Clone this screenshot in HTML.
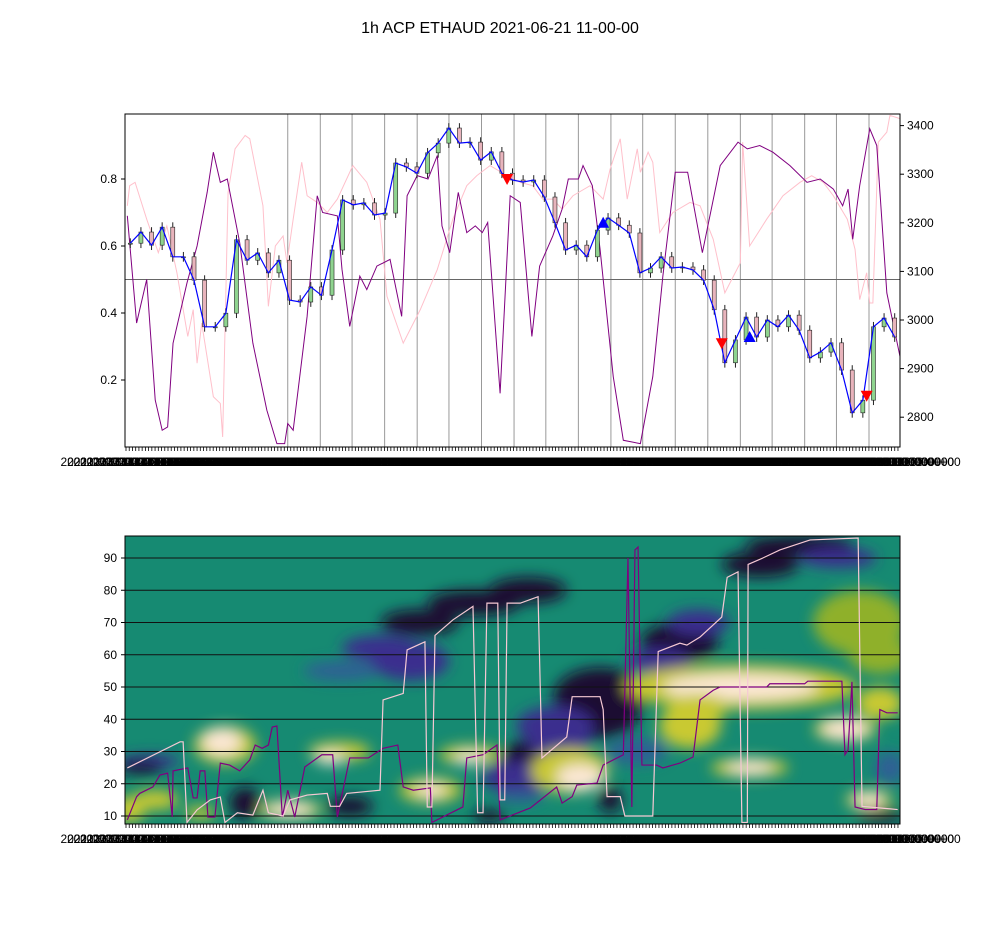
<!DOCTYPE html>
<html><head><meta charset="utf-8"><style>
body{margin:0;background:#fff;}
svg{display:block;font-family:"Liberation Sans",sans-serif;}
</style></head><body>
<svg id="fig" width="1000" height="950" viewBox="0 0 1000 950">
<defs>
<clipPath id="clipTop"><rect x="125" y="114" width="775" height="333"/></clipPath>
<clipPath id="clipBot"><rect x="125" y="536" width="775" height="288"/></clipPath>
<filter id="blur" x="-50%" y="-50%" width="200%" height="200%"><feGaussianBlur stdDeviation="7"/></filter>
</defs>
<text x="500" y="33" text-anchor="middle" font-size="16">1h ACP ETHAUD 2021-06-21 11-00-00</text>
<g id="topPanel"></g>
<g id="botPanel"></g>
</svg>
<script>
// ---------- data ----------
const closes=[3158,3181,3154,3191,3130,3130,3082,2986,2986,3014,3165,3123,3138,3097,3123,3041,3037,3068,3051,3144,3247,3237,3241,3216,3220,3323,3315,3302,3344,3364,3395,3364,3366,3329,3346,3302,3288,3284,3288,3253,3200,3144,3154,3130,3185,3210,3195,3179,3097,3107,3130,3107,3109,3103,3082,3021,2912,2959,3006,2965,3000,2986,3010,2979,2922,2934,2953,2897,2809,2835,2986,3004,2965];
const oscT=[0.3,1.5,2.8,3.9,4.8,5.5,6.2,8,9.3,10.6,11.4,12.3,13.2,14.8,16.5,18.3,19.6,20.6,21,21.7,23.5,24.8,25.5,27.4,28,29,30.3,31.2,32.5,34.2,35.7,36.4,37.7,39.1,40.3,40.9,41.9,43,44.1,45.2,46.1,46.8,48.4,49.7,51,52.5,53.5,55.2,56.4,57.2,58.5,59.1,60.3,61.3,63,64.3,66.5,68.1,69.4,71,72.6,74.5,76.8,79.1,80.3,81.9,83.6,85.8,88,89.7,91.4,92.6,93.3,93.9,94.8,96.1,97,98.3,100];
const oscV=[0.69,0.37,0.50,0.14,0.05,0.06,0.31,0.49,0.60,0.76,0.88,0.79,0.80,0.61,0.31,0.11,0.01,0.01,0.07,0.05,0.39,0.75,0.70,0.69,0.53,0.36,0.51,0.47,0.54,0.56,0.39,0.75,0.81,0.80,0.87,0.66,0.58,0.76,0.64,0.66,0.64,0.67,0.16,0.75,0.73,0.33,0.54,0.63,0.71,0.80,0.80,0.84,0.78,0.59,0.21,0.02,0.01,0.21,0.51,0.82,0.82,0.58,0.84,0.91,0.89,0.90,0.88,0.84,0.79,0.80,0.77,0.72,0.77,0.62,0.78,0.95,0.90,0.46,0.27];
const pinkT=[0.3,0.6,1.3,2.8,4.3,5.4,6.7,8.1,8.8,9.3,9.9,11.4,12.3,12.6,13.3,14.2,15.5,16.1,17.8,18.5,19.4,20.4,20.9,21.7,22.8,23.5,24.8,26.1,27.4,29.4,31.2,32.9,33.8,35.9,38.1,40.3,42.3,44.1,45.4,47.1,49.3,51,52.6,53.9,55.2,56.4,57.8,60,61.7,62.6,63.9,64.8,66.1,66.5,67.5,68.1,69,70.7,72.9,74.2,75.9,77.4,79.4,79.7,80.6,82.8,84.9,87.1,88.6,90.1,91.4,93.2,94.2,94.8,95.7,96.1,96.5,97.2,98.3,98.7,100];
const pinkV=[0.72,0.78,0.79,0.68,0.58,0.66,0.52,0.33,0.41,0.25,0.37,0.15,0.13,0.03,0.76,0.89,0.93,0.92,0.72,0.42,0.60,0.63,0.55,0.68,0.85,0.75,0.73,0.70,0.74,0.84,0.79,0.68,0.45,0.31,0.41,0.53,0.68,0.78,0.81,0.84,0.81,0.79,0.78,0.74,0.74,0.71,0.75,0.78,0.74,0.83,0.92,0.74,0.89,0.82,0.88,0.85,0.64,0.70,0.73,0.72,0.62,0.46,0.55,0.91,0.60,0.68,0.75,0.79,0.81,0.79,0.75,0.68,0.59,0.44,0.52,0.43,0.43,0.91,0.94,0.99,0.98];
const sellT=[49.3,77,95.7]; const sellP=[3288,2950,2842];
const buyT=[61.7,80.6]; const buyP=[3200,2965];
const leftTicks=[0.2,0.4,0.6,0.8];
const rightTicks=[2800,2900,3000,3100,3200,3300,3400];
const vgridT=[21,25.2,29.3,33.5,37.7,41.8,46,50.2,54.3,58.5,62.7,66.8,71,75.2,79.4,83.5,87.7,91.8,96];
// bottom panel
const domT=[0.3,7.1,7.5,8,9.3,11,12.3,12.9,14.5,16.5,17.8,18.5,20.4,21.3,23.5,26.1,26.5,27.7,28.6,32.9,33.3,35.9,36.4,38.7,39,39.6,40,42.3,44.9,45.5,46.2,46.7,48.1,48.4,49,49.3,51,53.3,53.8,57,57.7,61.3,61.7,62.2,63.9,64.5,68.1,68.8,71.6,72.5,74.2,77,77.7,79.1,79.6,80.3,80.4,82.3,84.5,88.4,94.6,95.1,99.7];
const domP=[24.9,33,33,8,11.9,15,15.9,8,11,10.3,18,11,10,15,16.5,17,13,13,17,18,46,48,61.5,64,12.8,12.8,66,70.8,75,11,11,76,76,15,15,76,76,78,28,34.5,47,47,43,16,16,10,10,61,63.6,63,65.5,71.7,84,85.7,8,8,88,90,92.5,95.6,96.2,13,12];
const cycT=[0.3,1.5,1.9,3.6,4.5,5.5,6.1,6.2,8.1,8.8,9.3,9.7,10.3,10.7,11.6,12.3,13.5,14.8,16.1,16.8,17.7,18.5,19,19.6,20.3,21,21.9,23.2,25.4,26.8,27.4,29,31.4,33.3,35.2,35.9,37.2,39.4,39.6,43.6,44.1,46.2,48,48.4,50.7,52.3,55.7,56.4,57.7,58.3,60.9,61.7,64.3,64.9,65.4,65.8,66.2,66.7,68.6,69.4,71.6,73.3,74.2,75.9,76.8,82.8,83.2,87.7,88.1,92.5,92.9,93.3,93.8,94.2,95.5,97,97.4,98.3,99.7];
const cycP=[8.8,16,17,19,22.7,23.3,9.7,24,24.9,15.6,15.6,24,24,9.7,9.7,26.4,25.8,24,27.4,32,31,32,37.6,37.9,9.7,18,9.7,25.2,29,29,9.7,28,28,31,32,19,18,18.7,8,12.8,28,29,32,8.8,11,12.5,19,14,16,19.6,20.2,25.8,29,90,12.8,92.5,93.4,25.8,25.8,24.9,26.4,28.3,46,49,50,50,51,51,51.8,51.8,29,30.5,51.6,12.8,12,12,43,42,42];
const blobT=[38,45,52,33,28,36.8,61.3,60,55.5,71.6,69,74,87,82,92,53.5,51,56,3.2,2,15.5,29,62.6,47,12.9,12.5,27.7,26.5,39.4,39.4,44.5,44.5,57.4,58.7,79.4,79.4,72.9,74,80.6,80.6,92.9,92.9,96,96,97.4,94.8,97.4,21.3,21.3,3.9,0.6,9.7,98.7,51,66,97.4];
const blobP=[70,76,80,62,55,58,47,40,38,64,58,70,94,88,90,28,22,33,27,25,14,13,15,10,32,33,30,28,18,18,29,28,24,22,50,50,38,44,25,25,37,37,15,15,45,70,60,12,12,15,12,11,25,16,30,10];
const blobRT=[5,6,5,5,5,5,6,6,5,5,4,4,7,5,5,5,5,4,4,3,2,3,1.5,2,4,2.5,4,2,4,2,4,2,5,3,15,10,4,4,5,3,4,3,3,2,3,6,4,4,3,3,2,2,2,3,4,3];
const blobRP=[4,4,4,4,3,6,9,6,6,6,4,4,3,4,3,6,5,5,2,2,5,3,4,2,6,4,3,2,4,2,3,2,7,4,7,4,7,4,3,2,4,3,3,2,5,10,6,3,2,3,4,2,5,2,4,2];
const blobK=['d','d','d','p','b','p','d','d','p','d','p','p','d','d','p','d','p','p','p','d','d','d','d','d','y','c','y','c','y','c','y','c','y','c','y','c','y','y','y','c','y','c','y','c','y','g','g','y','c','y','y','y','b','b','b','d'];
const botTicks=[10,20,30,40,50,60,70,80,90];

// ---------- scales ----------
const X=t=>125+t*7.75;
const YL=v=>447-v*335;
const YR=p=>320-(p-3000)*0.486;
const YB=p=>816-(p-10)*3.225;
const NS='http://www.w3.org/2000/svg';
function mk(tag,parent,attrs){const e=document.createElementNS(NS,tag);for(const k in attrs)e.setAttribute(k,attrs[k]);parent.appendChild(e);return e;}
const topG=document.getElementById('topPanel'), botG=document.getElementById('botPanel');

// ---------- top panel ----------
const tg=mk('g',topG,{'clip-path':'url(#clipTop)'});


vgridT.forEach(t=>{const l=mk('line',tg,{x1:X(t),x2:X(t),y1:114,y2:447,stroke:'#999','stroke-width':1});

});
const hl=mk('line',tg,{x1:125,x2:900,y1:YL(0.5),y2:YL(0.5),stroke:'#666','stroke-width':1});


function poly(parent,ts,vs,sx,sy,attrs,name){const p=mk('polyline',parent,Object.assign({points:ts.map((t,i)=>sx(t)+','+sy(vs[i])).join(' '),fill:'none'},attrs));

return p;}
poly(tg,pinkT,pinkV,X,YL,{stroke:'pink','stroke-width':1},'pink-oscillator-line');
poly(tg,oscT,oscV,X,YL,{stroke:'purple','stroke-width':1},'purple-oscillator-line');
const n=closes.length, step=100/n;
const cg=mk('g',tg,{});


closes.forEach((c,i)=>{const o=i?closes[i-1]:c;const t=(i+0.5)*step;const x=X(t);
 const hi=Math.max(o,c)+10,lo=Math.min(o,c)-10;
 const w=mk('line',cg,{x1:x,x2:x,y1:YR(hi),y2:YR(lo),stroke:'#222','stroke-width':1});
 
 
 const b=mk('rect',cg,{x:x-2,y:YR(Math.max(o,c)),width:4,height:Math.max(1,Math.abs(YR(o)-YR(c))),fill:c>=o?'#8fd48f':'#e8b4bc',stroke:'#222','stroke-width':0.6});
 
 });
poly(tg,closes.map((c,i)=>(i+0.5)*step),closes,X,YR,{stroke:'blue','stroke-width':1.2},'moving-average-line');
sellT.forEach((t,i)=>{const x=X(t),y=YR(sellP[i]);const m=mk('polygon',tg,{points:`${x-6},${y-6} ${x+6},${y-6} ${x},${y+5}`,fill:'red'});

});
buyT.forEach((t,i)=>{const x=X(t),y=YR(buyP[i]);const m=mk('polygon',tg,{points:`${x-6},${y+5} ${x+6},${y+5} ${x},${y-6}`,fill:'blue'});

});
const fr=mk('rect',topG,{x:125,y:114,width:775,height:333,fill:'none',stroke:'#000','stroke-width':1});


leftTicks.forEach(v=>{mk('line',topG,{x1:121,x2:125,y1:YL(v),y2:YL(v),stroke:'#000'});
 const t=mk('text',topG,{x:117,y:YL(v)+4,'text-anchor':'end','font-size':12});t.textContent=v.toFixed(1);
 
 });
rightTicks.forEach(v=>{mk('line',topG,{x1:900,x2:904,y1:YR(v),y2:YR(v),stroke:'#000'});
 const t=mk('text',topG,{x:907,y:YR(v)+4,'font-size':12});t.textContent=v;
 
 });

// x tick clutter (both panels)
function xticks(parent,y0,name){const g=mk('g',parent,{});
 
 
 for(let x=126;x<=900;x+=3.23){mk('line',g,{x1:x,x2:x,y1:y0,y2:y0+4,stroke:'#000','stroke-width':0.8});}
 for(let x=126;x<=900;x+=6.46){const t=mk('text',g,{x:x,y:y0+19,'text-anchor':'middle','font-size':12});t.textContent='2021-06-'+String(11+Math.floor((x-126)/77)).padStart(2,'0')+' 00:00:00+00';}}
xticks(topG,447,'price-x-tick-labels');

// ---------- bottom panel ----------
const bg=mk('g',botG,{'clip-path':'url(#clipBot)'});


mk('rect',bg,{x:125,y:536,width:775,height:288,fill:'#168a72'});
const colors={d:'#1c0a33',p:'#3b2f8e',b:'#2f6094',y:'#c9c932',c:'#fbe7d4',g:'#8fb02a'};
const hb=mk('g',bg,{filter:'url(#blur)'});


blobT.forEach((t,i)=>{const e=mk('ellipse',hb,{cx:X(t),cy:YB(blobP[i]),rx:blobRT[i]*7.75,ry:blobRP[i]*3.225,fill:colors[blobK[i]]});
 
 });
botTicks.forEach(v=>{const l=mk('line',bg,{x1:125,x2:900,y1:YB(v),y2:YB(v),stroke:'#111','stroke-width':1});
 
 });
poly(bg,cycT,cycP,X,YB,{stroke:'purple','stroke-width':1.2},'cycle-period-line');
poly(bg,domT,domP,X,YB,{stroke:'#f6c9d4','stroke-width':1.2},'dominant-period-line');
const fr2=mk('rect',botG,{x:125,y:536,width:775,height:288,fill:'none',stroke:'#000','stroke-width':1});


botTicks.forEach(v=>{mk('line',botG,{x1:121,x2:125,y1:YB(v),y2:YB(v),stroke:'#000'});
 const t=mk('text',botG,{x:117,y:YB(v)+4,'text-anchor':'end','font-size':12});t.textContent=v;
 
 });
xticks(botG,824,'heatmap-x-tick-labels');
</script>
</body></html>
